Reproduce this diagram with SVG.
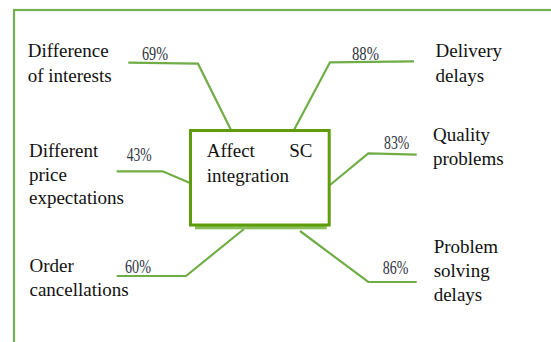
<svg xmlns="http://www.w3.org/2000/svg" width="551" height="342" viewBox="0 0 551 342">
<style>
.lbl{font-family:"Liberation Serif","Times New Roman",serif;font-size:19px;fill:#111}
.pct{font-family:"Liberation Serif","Times New Roman",serif;font-size:18px;fill:#2f3340}
.conn{fill:none;stroke:#70AD47;stroke-width:2.2;stroke-linejoin:miter}
</style>
<rect width="551" height="342" fill="#ffffff"/>
<rect id="frame" x="14" y="10" width="620" height="420" fill="none" stroke="#74B050" stroke-width="2.2"/>
<g id="connectors">
<path class="conn" d="M128.3,62.7 L198,63.7 L231,130"/>
<path class="conn" d="M414,61.3 L330,62.3 L294,130"/>
<path class="conn" d="M116.7,171.3 L162.7,171.3 L190,183"/>
<path class="conn" d="M416.7,154.7 L368.3,153.3 L330,185"/>
<path class="conn" d="M116.7,276 L186,276 L244,229"/>
<path class="conn" d="M300,231 L368.3,282 L416.7,282"/>
</g>
<g id="center">
<rect x="195" y="226" width="131.7" height="3.3" fill="#8BBE5A"/>
<rect x="190.5" y="130.5" width="138.7" height="94.5" fill="#ffffff" stroke="#5E9C0A" stroke-width="3"/>
<text class="lbl" x="206.7" y="157.3">Affect</text>
<text class="lbl" x="289.3" y="157.3">SC</text>
<text class="lbl" x="206.7" y="181.7">integration</text>
</g>
<g id="n-interests">
<text class="lbl" x="27.7" y="57.3">Difference</text>
<text class="lbl" x="27.7" y="81.7">of interests</text>
<text class="pct" x="142" y="60" textLength="26" lengthAdjust="spacingAndGlyphs">69%</text>
</g>
<g id="n-delivery">
<text class="lbl" x="435.5" y="57.3">Delivery</text>
<text class="lbl" x="435.5" y="81.7">delays</text>
<text class="pct" x="352" y="60" textLength="27" lengthAdjust="spacingAndGlyphs">88%</text>
</g>
<g id="n-price">
<text class="lbl" x="29" y="157">Different</text>
<text class="lbl" x="29" y="180.5">price</text>
<text class="lbl" x="29" y="204">expectations</text>
<text class="pct" x="126.7" y="160.7" textLength="25" lengthAdjust="spacingAndGlyphs">43%</text>
</g>
<g id="n-quality">
<text class="lbl" x="433" y="141">Quality</text>
<text class="lbl" x="433" y="165">problems</text>
<text class="pct" x="384" y="149.3" textLength="25.3" lengthAdjust="spacingAndGlyphs">83%</text>
</g>
<g id="n-order">
<text class="lbl" x="29.5" y="271.7">Order</text>
<text class="lbl" x="29.5" y="296">cancellations</text>
<text class="pct" x="125" y="272.7" textLength="26" lengthAdjust="spacingAndGlyphs">60%</text>
</g>
<g id="n-solving">
<text class="lbl" x="433.7" y="253.3">Problem</text>
<text class="lbl" x="433.7" y="277.3">solving</text>
<text class="lbl" x="433.7" y="301">delays</text>
<text class="pct" x="382.7" y="274" textLength="25.6" lengthAdjust="spacingAndGlyphs">86%</text>
</g>
</svg>
